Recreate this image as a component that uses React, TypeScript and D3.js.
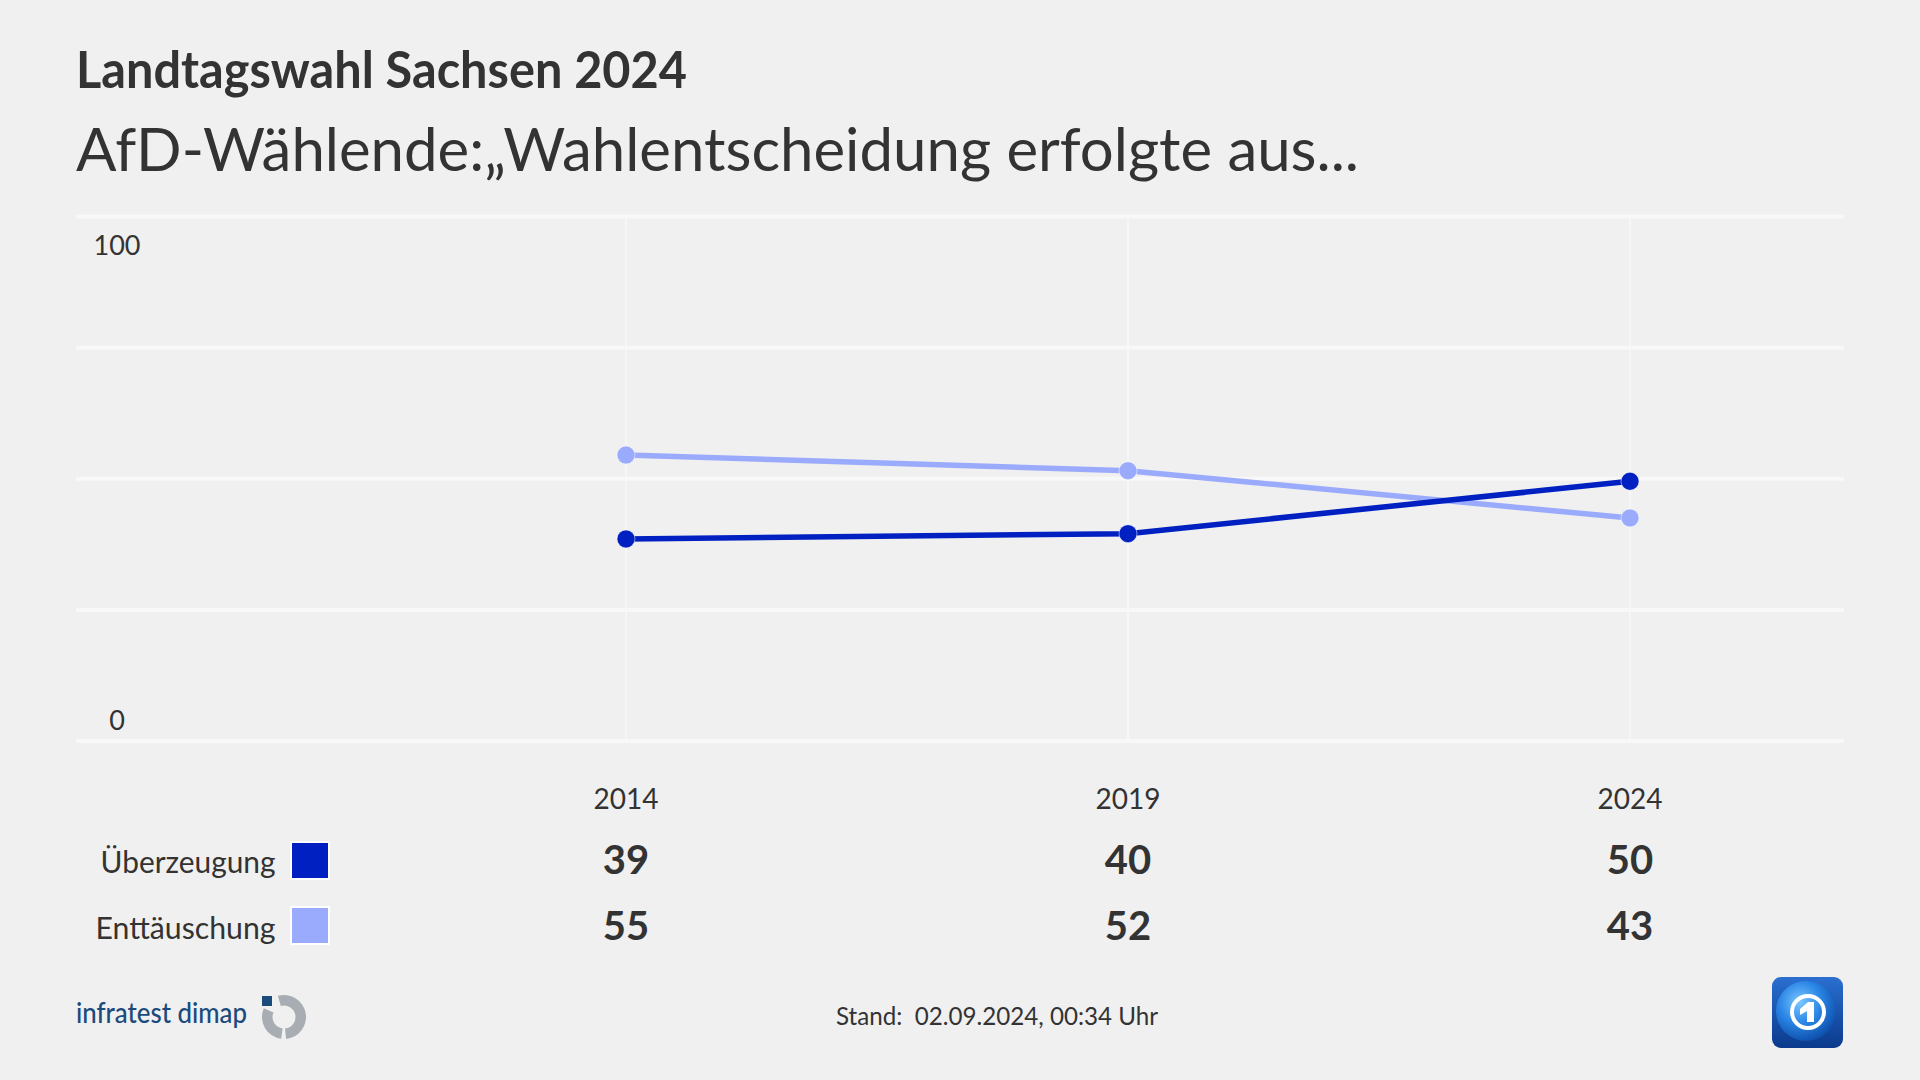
import React from "react";
import * as d3 from "d3";

const years = ["2014", "2019", "2024"];
const seriesNames = ["Überzeugung", "Enttäuschung"];
const ueberzeugung = [39, 40, 50];
const enttaeuschung = [55, 52, 43];
const gridTicks = [0, 25, 50, 75, 100];
const axisLabels = [0, 100];
const seriesColors = ["#0020c2", "#9aaafc"];

const W = 1920;
const H = 1080;
const FONT = "Lato, 'Open Sans', sans-serif";
const TXT = "#333333";

export default function App() {
  const x = d3.scalePoint<string>().domain(years).range([626, 1630]);
  const y = d3.scaleLinear().domain([0, 100]).range([741, 216.5]);
  const yPlot = d3.scaleLinear().domain([0, 100]).range([743.5, 219]);
  const allSeries = [ueberzeugung, enttaeuschung];
  const line = d3
    .line<number>()
    .x((_, i) => x(years[i]) as number)
    .y((d) => yPlot(d));

  const arcGen = d3.arc<any>().innerRadius(11.5).outerRadius(22);
  const ring1 = arcGen({ startAngle: -0.09 * Math.PI, endAngle: 0.97 * Math.PI }) || "";
  const ring2 = arcGen({ startAngle: 1.04 * Math.PI, endAngle: 1.63 * Math.PI }) || "";

  return (
    <div style={{ position: "absolute", left: 0, top: 0, width: W, height: H }}>
      <svg width={W} height={H} style={{ display: "block" }} fontFamily={FONT}>
        <defs>
          <linearGradient id="tsbg" x1="0" y1="0" x2="0" y2="1">
            <stop offset="0" stopColor="#2a6fd0" />
            <stop offset="1" stopColor="#0a3a8c" />
          </linearGradient>
          <radialGradient id="globe" cx="0.4" cy="0.35" r="0.7">
            <stop offset="0" stopColor="#7cc8ff" />
            <stop offset="0.5" stopColor="#2a86e6" />
            <stop offset="1" stopColor="#0c4aa6" />
          </radialGradient>
        </defs>
        <rect width={W} height={H} fill="#f0f0f0" />

        {/* Titles */}
        <text x={76} y={88} fontSize={51} fontWeight={700} fill={TXT} textLength={611} lengthAdjust="spacingAndGlyphs">
          Landtagswahl Sachsen 2024
        </text>
        <text x={76} y={171} fontSize={60} fontWeight={400} fill={TXT} textLength={1283} lengthAdjust="spacingAndGlyphs">
          AfD-Wählende:„Wahlentscheidung erfolgte aus...
        </text>

        {/* Horizontal grid */}
        {gridTicks.map((t) => (
          <line key={t} x1={76} x2={1844} y1={y(t)} y2={y(t)} stroke="#f8f8f8" strokeWidth={4} />
        ))}
        {/* Vertical grid */}
        {years.map((yr) => (
          <line key={yr} x1={x(yr)} x2={x(yr)} y1={y(100)} y2={y(0)} stroke="#f8f8f8" strokeWidth={1.5} />
        ))}

        {/* Axis labels */}
        {axisLabels.map((t) => (
          <text key={t} x={117} y={y(t) + (t === 100 ? 38.5 : -11)} fontSize={27} fill={TXT} textAnchor="middle">
            {t}
          </text>
        ))}

        {/* Lines: light first, dark on top */}
        {[1, 0].map((si) => (
          <g key={si}>
            <path d={line(allSeries[si]) || ""} fill="none" stroke={seriesColors[si]} strokeWidth={5.5} />
            {allSeries[si].map((v, i) => (
              <circle key={i} cx={x(years[i])} cy={yPlot(v)} r={9} fill={seriesColors[si]} stroke="#ffffff" strokeOpacity={0.5} strokeWidth={1} />
            ))}
          </g>
        ))}

        {/* Year labels */}
        {years.map((yr) => (
          <text key={yr} x={x(yr)} y={809} fontSize={28} fill={TXT} textAnchor="middle">
            {yr}
          </text>
        ))}

        {/* Legend table */}
        {seriesNames.map((name, si) => {
          const rowBase = 873 + si * 66;
          const sqTop = 842 + si * 65;
          return (
            <g key={name}>
              <text x={275.5} y={rowBase} fontSize={30} fill={TXT} textAnchor="end" textLength={si === 0 ? 175 : 180} lengthAdjust="spacingAndGlyphs">
                {name}
              </text>
              <rect x={291} y={sqTop} width={38} height={37} fill={seriesColors[si]} stroke="#ffffff" strokeWidth={2} />
              {allSeries[si].map((v, i) => (
                <text key={i} x={x(years[i])} y={rowBase + 1} fontSize={40} fontWeight={700} fill={TXT} textAnchor="middle">
                  {v}
                </text>
              ))}
            </g>
          );
        })}

        {/* Footer: infratest dimap */}
        <text x={76} y={1023} fontSize={29} fontWeight={500} fill="#1b4a7c" textLength={171} lengthAdjust="spacingAndGlyphs">
          infratest dimap
        </text>
        <g>
          <rect x={262} y={996} width={10} height={10} fill="#1b4a7c" />
          <g transform="translate(284,1017)">
            <path d={ring1} fill="#a7adb3" />
            <path d={ring2} fill="#a7adb3" />
          </g>
        </g>

        {/* Stand */}
        <text x={836} y={1025} fontSize={25} fill={TXT} textLength={322} lengthAdjust="spacingAndGlyphs" style={{ whiteSpace: "pre" }}>
          {"Stand:  02.09.2024, 00:34 Uhr"}
        </text>

        {/* tagesschau logo */}
        <g>
          <rect x={1772} y={977} width={71} height={71} rx={9} fill="url(#tsbg)" />
          <circle cx={1806} cy={1011} r={30} fill="url(#globe)" />
          <circle cx={1808} cy={1012} r={16} fill="none" stroke="#ffffff" strokeWidth={4} />
          <polygon
            points="1800,1009 1808,1002 1814,1002 1814,1022 1807,1022 1807,1011 1800,1015"
            fill="#ffffff"
          />
        </g>
      </svg>
    </div>
  );
}
